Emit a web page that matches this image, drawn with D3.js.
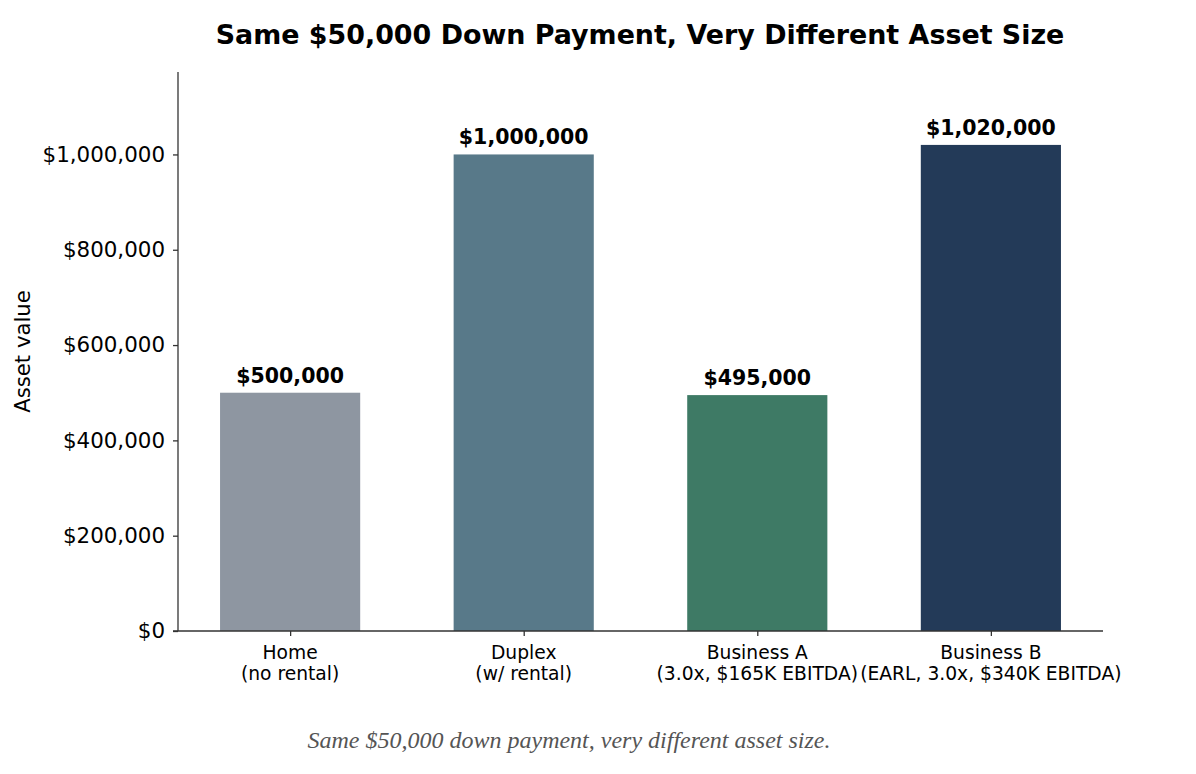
<!DOCTYPE html>
<html>
<head>
<meta charset="utf-8">
<script src="https://cdn.jsdelivr.net/npm/d3@7"></script>
<style>
  body { margin: 0; background: #fff; }
  svg text { font-family: "DejaVu Sans", sans-serif; }
</style>
</head>
<body>
<svg id="chart" width="1196" height="774"></svg>
<script>
// Donnees du graphique
const categories = ["Home\n(no rental)", "Duplex\n(w/ rental)", "Business A\n(3.0x, $165K EBITDA)", "Business B\n(EARL, 3.0x, $340K EBITDA)"];
const assetValues = [500000, 1000000, 495000, 1020000];
const barColors = ["#8e96a1", "#587989", "#3e7a65", "#233a58"];
const yTicks = [0, 200000, 400000, 600000, 800000, 1000000];

const svg = d3.select("#chart");
const plot = { left: 178, right: 1103, top: 72, bottom: 631 };

// Echelle x : positions 0..3 comme matplotlib, barres de largeur 0.6
const x = d3.scaleLinear().domain([-0.48, 3.48]).range([plot.left, plot.right]);
const barW = x(0.6) - x(0);
const y = d3.scaleLinear().domain([0, d3.max(assetValues) * 1.15]).range([plot.bottom, plot.top]);

const fmt = v => "$" + d3.format(",")(v);

// Barres
svg.selectAll(".bar")
    .data(assetValues)
    .enter()
    .append("rect")
    .attr("class", "bar")
    .attr("x", (d, i) => x(i) - barW / 2)
    .attr("y", d => y(d))
    .attr("width", barW)
    .attr("height", d => y(0) - y(d))
    .attr("fill", (d, i) => barColors[i]);

// Etiquettes de valeur
svg.selectAll(".val")
    .data(assetValues)
    .enter()
    .append("text")
    .attr("x", (d, i) => x(i))
    .attr("y", d => y(d) - 10)
    .attr("text-anchor", "middle")
    .attr("font-size", 20.5)
    .attr("font-weight", "bold")
    .attr("fill", "#000")
    .text(fmt);

// Axe y
const yAxis = svg.append("g")
    .attr("transform", "translate(" + plot.left + ",0)")
    .call(d3.axisLeft(y).tickValues(yTicks).tickFormat(fmt).tickSizeOuter(0).tickSize(5).tickPadding(8));
yAxis.select(".domain").attr("d", "M0," + plot.top + "V" + plot.bottom);

// Axe x
const xAxis = svg.append("g")
    .attr("transform", "translate(0," + plot.bottom + ")")
    .call(d3.axisBottom(x).tickValues([0, 1, 2, 3]).tickFormat("").tickSizeOuter(0).tickSize(5));
xAxis.select(".domain").attr("d", "M" + (plot.left - 5) + ",0H" + plot.right);

[yAxis, xAxis].forEach(function(g) {
    g.select(".domain").attr("stroke", "#333").attr("stroke-width", 1.3);
    g.selectAll(".tick line").attr("stroke", "#333").attr("stroke-width", 1.3);
});
yAxis.selectAll(".tick text")
    .attr("font-size", 21.4)
    .attr("fill", "#000")
    .style("font-family", "DejaVu Sans, sans-serif");

// Libelles de categories sur deux lignes
categories.forEach(function(label, i) {
    const t = svg.append("text")
        .attr("x", x(i))
        .attr("y", plot.bottom + 28)
        .attr("text-anchor", "middle")
        .attr("font-size", 18.7)
        .attr("fill", "#000");
    label.split("\n").forEach(function(line, j) {
        t.append("tspan").attr("x", x(i)).attr("dy", j === 0 ? 0 : 21).text(line);
    });
});

// Titre
svg.append("text")
    .attr("x", 640)
    .attr("y", 44)
    .attr("text-anchor", "middle")
    .attr("font-size", 26.9)
    .attr("font-weight", "bold")
    .text("Same $50,000 Down Payment, Very Different Asset Size");

// Titre de l'axe y
svg.append("text")
    .attr("transform", "translate(30," + ((plot.top + plot.bottom) / 2) + ") rotate(-90)")
    .attr("text-anchor", "middle")
    .attr("font-size", 21.2)
    .text("Asset value");

// Legende sous le graphique
svg.append("text")
    .attr("x", 569)
    .attr("y", 748)
    .attr("text-anchor", "middle")
    .attr("font-size", 24)
    .attr("font-style", "italic")
    .attr("fill", "#555")
    .style("font-family", "Liberation Serif, serif")
    .text("Same $50,000 down payment, very different asset size.");
</script>
</body>
</html>
